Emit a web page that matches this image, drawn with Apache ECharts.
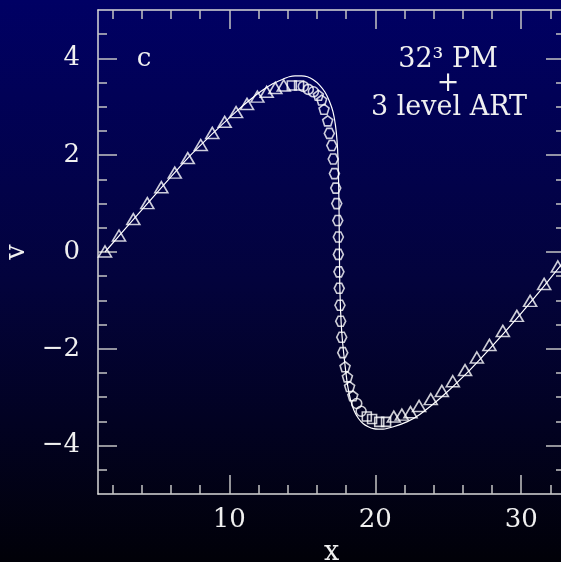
<!DOCTYPE html>
<html>
<head>
<meta charset="utf-8">
<script src="https://cdn.jsdelivr.net/npm/echarts@6/dist/echarts.min.js"></script>
<style>
html,body{margin:0;padding:0;background:#000;}
#chart{width:561px;height:562px;}
</style>
</head>
<body>
<div id="chart"></div>
<script>
// ---- data (x, v) ----
const trianglePts = [
  [1.48,0.01],[2.44,0.34],[3.42,0.68],[4.38,1.01],[5.34,1.34],[6.26,1.64],[7.15,1.94],[8.04,2.21],
  [8.83,2.46],[9.68,2.69],[10.46,2.89],[11.21,3.06],[11.92,3.21],[12.56,3.31],[13.15,3.39],[13.73,3.44],
  [21.27,-3.40],[21.82,-3.36],[22.41,-3.31],[23.00,-3.18],[23.80,-3.04],[24.56,-2.87],[25.31,-2.67],
  [26.15,-2.44],[26.96,-2.18],[27.82,-1.92],[28.74,-1.63],[29.70,-1.32],[30.61,-1.01],[31.57,-0.66],[32.51,-0.30]
];
const squarePts = [
  [14.28,3.44],[14.78,3.44],[19.42,-3.40],[19.78,-3.45],[20.27,-3.51],[20.74,-3.51]
];
const circlePts = [
  [15.07,3.42],[15.41,3.36],[15.76,3.31],[18.73,-3.13],[19.03,-3.29]
];
const pentagonPts = [
  [16.10,3.24],[16.33,3.14],[16.49,2.95],[16.74,2.71],[17.93,-2.37],[18.09,-2.58],[18.24,-2.78],[18.46,-2.97]
];
const hexagonPts = [
  [16.85,2.45],[17.02,2.20],[17.12,1.92],[17.20,1.62],[17.29,1.32],[17.36,1.00],[17.43,0.65],[17.47,0.31],
  [17.47,-0.05],[17.51,-0.41],[17.53,-0.75],[17.58,-1.10],[17.63,-1.43],[17.70,-1.76],[17.77,-2.08]
];
const curvePts = [
  [1.48,0.0],[4.38,1.0],[7.15,1.94],[8.83,2.44],[10.39,2.88],[11.40,3.14],[12.22,3.33],[13.00,3.48],
  [13.59,3.56],[14.10,3.62],[14.50,3.64],[14.95,3.64],[15.35,3.62],[15.75,3.56],[16.15,3.46],[16.56,3.30],
  [16.85,3.12],[17.10,2.90],[17.27,2.62],[17.38,2.30],[17.45,1.90],[17.49,1.40],[17.52,0.80],[17.54,0.0],
  [17.57,-0.70],[17.62,-1.20],[17.70,-1.65],[17.81,-2.02],[17.95,-2.40],[18.10,-2.75],[18.30,-3.05],
  [18.55,-3.28],[18.85,-3.44],[19.18,-3.55],[19.52,-3.61],[19.87,-3.65],[20.20,-3.66],[20.55,-3.66],
  [21.24,-3.61],[22.16,-3.51],[23.07,-3.35],[24.56,-2.99],[26.15,-2.54],[27.87,-1.99],[29.70,-1.37],
  [31.52,-0.72],[32.73,-0.27],[33.20,-0.10]
];
const xMajorTicks = [10,20,30];
const xMinorTicks = [2,4,6,8,12,14,16,18,22,24,26,28,32];
const yMajorTicks = [-4,-2,0,2,4];
const yMinorTicks = [-4.5,-3.5,-3,-2.5,-1.5,-1,-0.5,0.5,1,1.5,2.5,3,3.5,4.5];
const xRange = [1,33];
const yRange = [-5,5];

const FONT = 'DejaVu Serif';
const TXT = '#f0f0f0';
const LINE = '#d8d8d8';
const TICK = '#c4c4c4';

function xAx(pos, major, withLabel){
  return {
    type:'value', position:pos, min:xRange[0], max:xRange[1], gridIndex:0,
    axisLine:{show:major, onZero:false, lineStyle:{color:LINE, width:1.5}},
    axisTick:{show:true, inside:true, length:major?19:9, customValues:major?xMajorTicks:xMinorTicks,
              lineStyle:{color:TICK, width:1.5}},
    axisLabel:{show:withLabel, customValues:xMajorTicks, color:TXT, fontFamily:FONT, fontSize:26, margin:13},
    splitLine:{show:false},
    name: withLabel ? 'x' : '', nameLocation:'middle', nameGap:45,
    nameTextStyle:{color:TXT, fontFamily:FONT, fontSize:27}
  };
}
function yAx(pos, major, withLabel){
  return {
    type:'value', position:pos, min:yRange[0], max:yRange[1], gridIndex:0,
    axisLine:{show:major, onZero:false, lineStyle:{color:LINE, width:1.5}},
    axisTick:{show:true, inside:true, length:major?19:9, customValues:major?yMajorTicks:yMinorTicks,
              lineStyle:{color:TICK, width:1.5}},
    axisLabel:{show:withLabel, customValues:yMajorTicks, color:TXT, fontFamily:FONT, fontSize:26, margin:18,
               formatter:function(v){ return String(v).replace('-', '\u2212'); }},
    splitLine:{show:false},
    name: withLabel ? 'v' : '', nameLocation:'middle', nameGap:67,
    nameTextStyle:{color:TXT, fontFamily:FONT, fontSize:27}
  };
}

const markStyle = {color:'rgba(0,0,0,0)', borderColor:'#ffffff', borderWidth:1.6};
function scat(data, symbol, size){
  return {type:'scatter', data:data, symbol:symbol, symbolSize:size, itemStyle:markStyle,
          xAxisIndex:0, yAxisIndex:0, silent:true, z:3};
}

const chart = echarts.init(document.getElementById('chart'), null, {renderer:'canvas'});
chart.setOption({
  animation:false,
  backgroundColor:{type:'linear', x:0, y:0, x2:0, y2:1,
    colorStops:[{offset:0,color:'#000064'},{offset:0.5,color:'#03033c'},{offset:1,color:'#010108'}]},
  grid:{left:98, top:10, width:467, height:484, containLabel:false, outerBoundsMode:'none'},
  xAxis:[xAx('bottom',true,true), xAx('bottom',false,false), xAx('top',true,false), xAx('top',false,false)],
  yAxis:[yAx('left',true,true), yAx('left',false,false), yAx('right',true,false), yAx('right',false,false)],
  series:[
    {type:'line', data:curvePts, showSymbol:false, smooth:0.2,
     lineStyle:{color:'#ffffff', width:1.2}, xAxisIndex:0, yAxisIndex:0, silent:true, z:2},
    scat(trianglePts, 'triangle', [13,11]),
    scat(squarePts, 'rect', [9,9]),
    scat(circlePts, 'circle', 10),
    scat(pentagonPts, 'path://M0,-1 L0.951,-0.309 L0.588,0.809 L-0.588,0.809 L-0.951,-0.309 Z', [10,10]),
    scat(hexagonPts, 'path://M-0.5,-0.866 L0.5,-0.866 L1,0 L0.5,0.866 L-0.5,0.866 L-1,0 Z', [10,10])
  ],
  graphic:[
    {type:'text', x:144, y:59, silent:true,
     style:{text:'c', fill:TXT, font:'26px "'+FONT+'"', align:'center', verticalAlign:'middle'}},
    {type:'text', x:448, y:60, silent:true,
     style:{text:'32\u00b3 PM', fill:TXT, font:'27px "'+FONT+'"', align:'center', verticalAlign:'middle'}},
    {type:'text', x:448, y:84, silent:true,
     style:{text:'+', fill:TXT, font:'27px "'+FONT+'"', align:'center', verticalAlign:'middle'}},
    {type:'text', x:449, y:108, silent:true,
     style:{text:'3 level ART', fill:TXT, font:'27px "'+FONT+'"', align:'center', verticalAlign:'middle'}}
  ]
});
</script>
</body>
</html>
